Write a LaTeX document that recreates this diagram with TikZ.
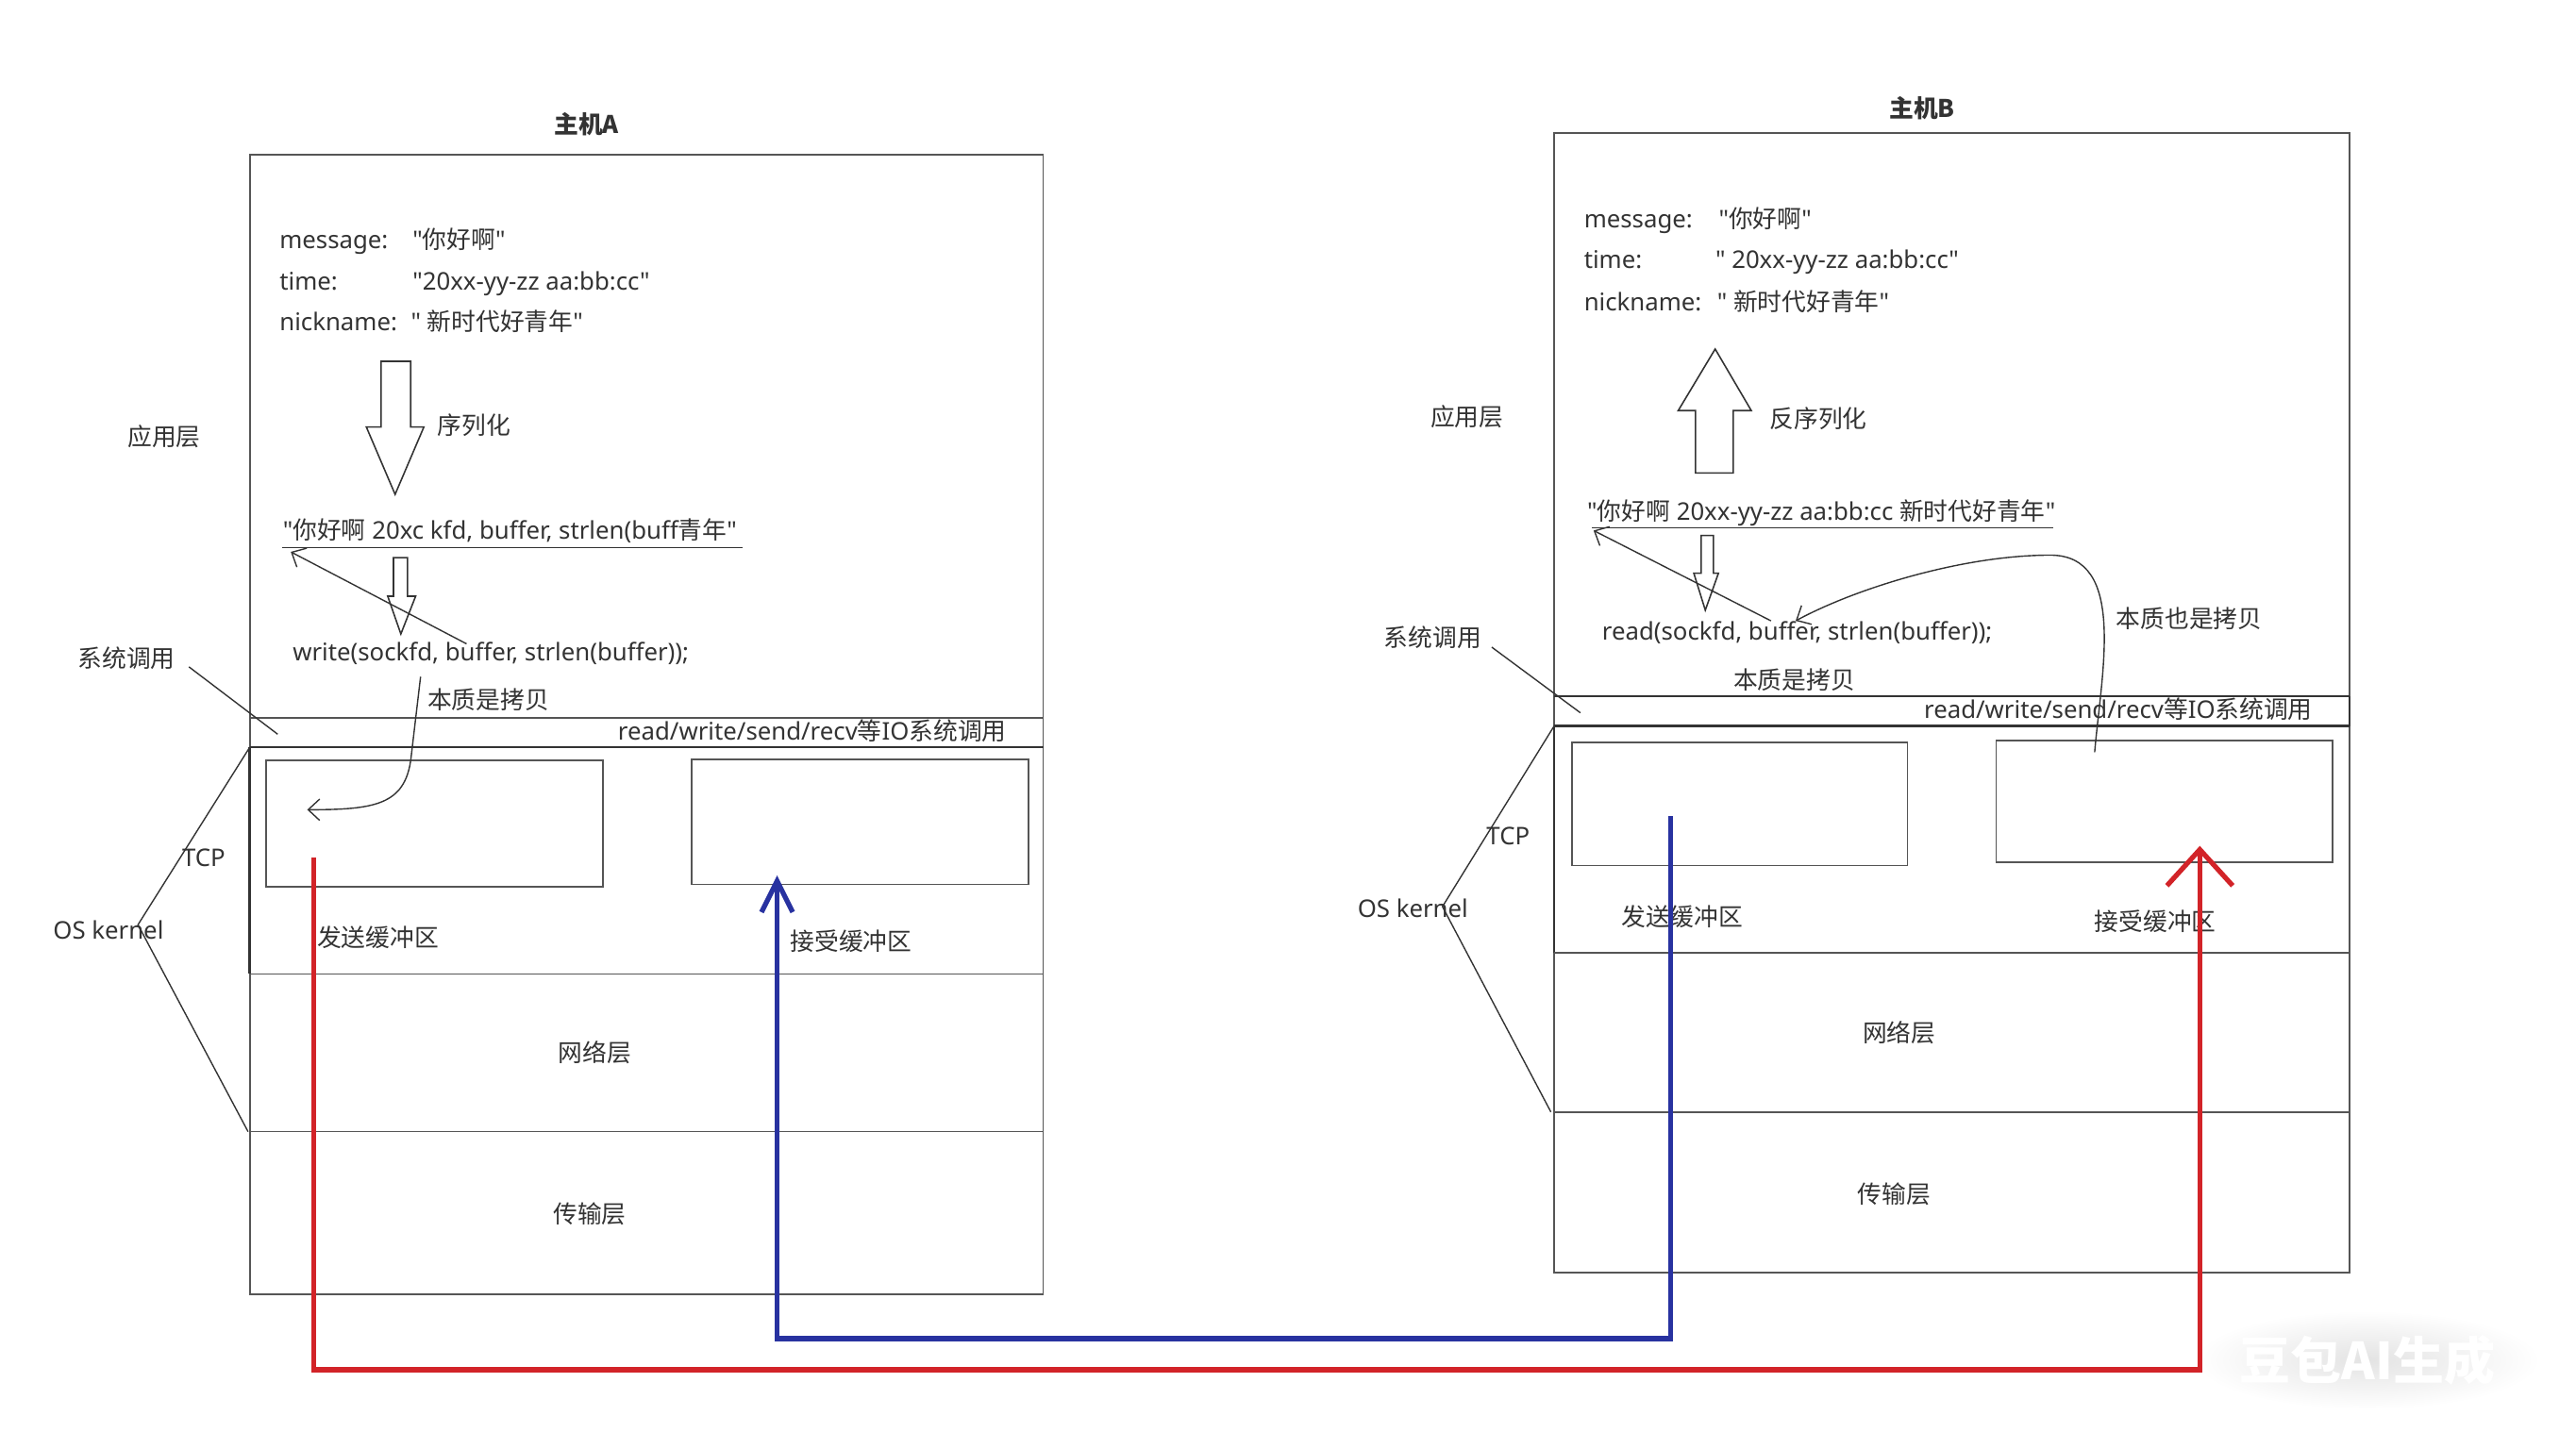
\documentclass[tikz,border=0pt]{standalone}
\usepackage{fontspec}
\setmainfont{Noto Sans}[Ligatures=TeXOff]
\newfontfamily\cjk{Noto Sans CJK SC}[Ligatures=TeXOff]
\usetikzlibrary{arrows.meta}
\definecolor{txt}{HTML}{333333}
\definecolor{ln}{HTML}{555555}
\definecolor{redl}{RGB}{210,35,40}
\definecolor{bluel}{RGB}{40,50,160}
\newcommand\zh[1]{{\cjk #1}}
\begin{document}
\begin{tikzpicture}[x=1pt,y=-1pt,
  t/.style={inner sep=0,anchor=west,text=txt,font=\fontsize{14.8}{17}\selectfont,text height=9pt,text depth=5pt,yshift=-3.5pt},
  tc/.style={t,anchor=center},
  ttl/.style={tc,font=\fontsize{14.8}{17}\selectfont\bfseries\cjk},
  box/.style={draw=ln,line width=1pt},
  dbox/.style={draw=txt,line width=1.4pt},
  buf/.style={draw=ln,line width=1pt,inner sep=0,minimum width=#1},
  hollow/.style={draw=txt,line width=0.9pt,fill=white,line join=miter},
  thinl/.style={draw=txt,line width=0.8pt},
  thinarr/.style={draw=txt,line width=0.8pt,-{Straight Barb[length=7pt,width=13pt]}},
  redarr/.style={draw=redl,line width=3pt,line join=miter,-{Straight Barb[length=22pt,width=40pt]}},
  bluearr/.style={draw=bluel,line width=3pt,line join=miter,-{Straight Barb[length=19pt,width=19pt]}},
]
\path[use as bounding box,fill=white] (0,0) rectangle (1568,882);

% watermark glow (behind everything)
\shade[inner color=gray!22,outer color=white] (1441,828) ellipse [x radius=105, y radius=30];

% ================= Host A =================
\node[ttl] (titleA) at (357,76) {主机A};
\draw[box] (152,94) rectangle (635,788);
\draw[box] (152,437) -- (635,437);
\draw[dbox] (152,455) -- (635,455);
\draw[dbox] (152,455) -- (152,593);
\draw[box] (152,593) -- (635,593);
\draw[box] (152,689) -- (635,689);

\node[t] (msgA) at (170,146) {message:};
\node[t] (msgAv) at (251,146) {"\zh{你好啊}"};
\node[t] (timeA) at (170,171) {time:};
\node[t] (timeAv) at (251,171) {"20xx-yy-zz aa:bb:cc"};
\node[t] (nickA) at (170,196) {nickname:};
\node[t] (nickAv) at (250,196) {" \zh{新时代好青年}"};

\draw[hollow] (232,220) -- (250,220) -- (250,260) -- (258,260) -- (240.5,301) -- (223,260) -- (232,260) -- cycle;
\node[t] (serLA) at (266,259) {\zh{序列化}};

\node[t] (serA) at (172,323) {"\zh{你好啊} 20xc kfd, buffer, strlen(buff\zh{青年}"};
\draw[thinl] (172,333.5) -- (452,333.5);

\draw[hollow] (239.5,339.5) -- (248,339.5) -- (248,363) -- (253,363) -- (244,386) -- (236,363) -- (239.5,363) -- cycle;

\node[t] (writeA) at (178,397) {write(sockfd, buffer, strlen(buffer));};
\coordinate (wA1) at (284,392);
\coordinate (wA2) at (177,336);
\draw[thinarr] (wA1) -- (wA2);

\node[t] (copyA) at (260,426) {\zh{本质是拷贝}};
\node[t] (bandA) at (376,445) {read/write/send/recv\zh{等}IO\zh{系统调用}};

\node[buf=205pt,minimum height=77pt] (sendA) at (264.5,501.5) {};
\node[buf=205pt,minimum height=76pt] (recvA) at (523.5,500.5) {};
\coordinate (cA1) at (256,412);
\coordinate (cA2) at (187,493);
\draw[thinarr] (cA1) -- (250,463) .. controls (246,490) and (228,493) .. (cA2);

\node[tc] (sendLA) at (230,571) {\zh{发送缓冲区}};
\node[tc] (recvLA) at (518,573) {\zh{接受缓冲区}};
\node[tc] (netA) at (362,641) {\zh{网络层}};
\node[tc] (transA) at (359,739) {\zh{传输层}};

\node[tc] (appA) at (100,266) {\zh{应用层}};
\node[tc] (sysA) at (77,401) {\zh{系统调用}};
\coordinate (sysA1) at (115,406);
\coordinate (sysA2) at (169,447);
\draw[thinl] (sysA1) -- (sysA2);
\node[tc] (tcpA) at (124,522) {TCP};
\node[tc] (osA) at (66,566) {OS kernel};
\coordinate (brA1) at (152,455);
\coordinate (brA2) at (84,563);
\coordinate (brA3) at (151,689);
\draw[thinl] (brA1) -- (brA2) -- (brA3);

% ================= Host B =================
\node[ttl] (titleB) at (1170,66) {主机B};
\draw[box] (946,81) rectangle (1430,775);
\draw[dbox] (946,424) -- (1430,424);
\draw[dbox] (946,442) -- (1430,442);
\draw[dbox] (1430,424) -- (1430,442);
\draw[dbox] (946,442) -- (946,580);
\draw[box] (946,580) -- (1430,580);
\draw[box] (946,677) -- (1430,677);

\node[t] (msgB) at (964,133) {message:};
\node[t] (msgBv) at (1046,133) {"\zh{你好啊}"};
\node[t] (timeB) at (964,158) {time:};
\node[t] (timeBv) at (1044,158) {" 20xx-yy-zz aa:bb:cc"};
\node[t] (nickB) at (964,184) {nickname:};
\node[t] (nickBv) at (1045,184) {" \zh{新时代好青年}"};

\draw[hollow] (1032,288) -- (1055,288) -- (1055,250) -- (1066,250) -- (1044,212.5) -- (1021.5,250) -- (1032,250) -- cycle;
\node[t] (deserB) at (1077,255) {\zh{反序列化}};

\node[t] (serB) at (966,311) {"\zh{你好啊} 20xx-yy-zz aa:bb:cc \zh{新时代好青年}"};
\draw[thinl] (969,321.5) -- (1250,321.5);

\draw[hollow] (1035.5,326) -- (1043,326) -- (1043,349) -- (1046,349) -- (1038,371.5) -- (1031,349) -- (1035.5,349) -- cycle;

\node[t] (readB) at (975,384) {read(sockfd, buffer, strlen(buffer));};
\coordinate (rB1) at (1078,378);
\coordinate (rB2) at (970,323);
\draw[thinarr] (rB1) -- (rB2);

\node[t] (copyB) at (1055,414) {\zh{本质是拷贝}};
\node[t] (copyB2) at (1288,377) {\zh{本质也是拷贝}};
\node[t] (bandB) at (1171,432) {read/write/send/recv\zh{等}IO\zh{系统调用}};

\node[buf=204pt,minimum height=75pt] (sendB) at (1059,489.5) {};
\node[buf=205pt,minimum height=74pt] (recvB) at (1317.5,488) {};
\coordinate (cB1) at (1275,458);
\coordinate (cB2) at (1093,378);
\draw[thinarr] (cB1) .. controls (1279,410) and (1295,338) .. (1248,338) .. controls (1195,338) and (1130,358) .. (cB2);

\node[tc] (sendLB) at (1024,558) {\zh{发送缓冲区}};
\node[tc] (recvLB) at (1312,561) {\zh{接受缓冲区}};
\node[tc] (netB) at (1156,629) {\zh{网络层}};
\node[tc] (transB) at (1153,727) {\zh{传输层}};

\node[tc] (appB) at (893,254) {\zh{应用层}};
\node[tc] (sysB) at (872,388) {\zh{系统调用}};
\coordinate (sysB1) at (908,394);
\coordinate (sysB2) at (962,434);
\draw[thinl] (sysB1) -- (sysB2);
\node[tc] (tcpB) at (918,509) {TCP};
\node[tc] (osB) at (860,553) {OS kernel};
\coordinate (brB1) at (946,442);
\coordinate (brB2) at (878,552);
\coordinate (brB3) at (944,677);
\draw[thinl] (brB1) -- (brB2) -- (brB3);

% ================= data flows =================
\coordinate (redS) at (191,522);
\coordinate (redE) at (1339,515);
\draw[redarr] (redS) -- (191,834) -- (1339,834) -- (redE);
\coordinate (blueS) at (1017,497);
\coordinate (blueE) at (473,533);
\draw[bluearr] (blueS) -- (1017,815) -- (473,815) -- (blueE);

% watermark text
\node[inner sep=0,text=white,font=\fontsize{31}{34}\selectfont\bfseries\cjk] (wm) at (1441,828) {豆包AI生成};
\end{tikzpicture}
\end{document}
